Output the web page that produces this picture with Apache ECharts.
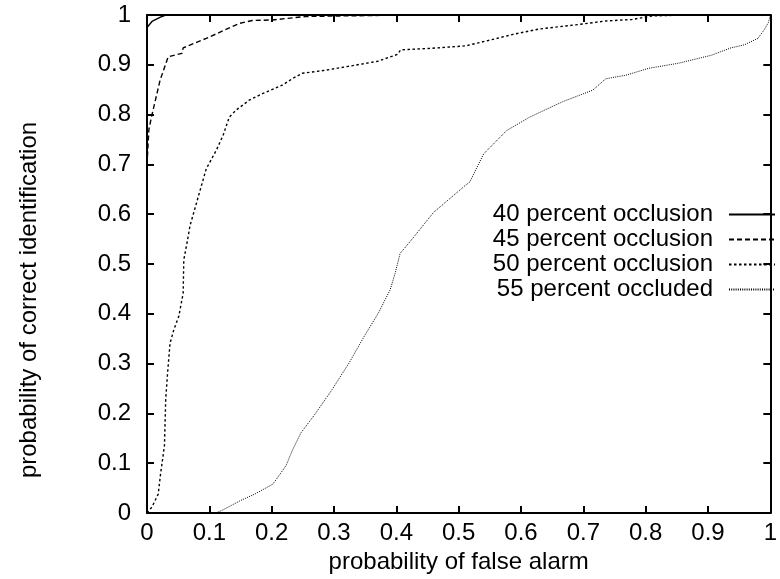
<!DOCTYPE html>
<html><head><meta charset="utf-8">
<script src="https://cdn.jsdelivr.net/npm/echarts@6/dist/echarts.min.js"></script>
<style>html,body{margin:0;padding:0;background:#fff}#c{width:780px;height:579px}</style>
</head><body><div id="c"></div>
<script>
// ---- data ----
const seriesNames = ['40 percent occlusion', '45 percent occlusion', '50 percent occlusion', '55 percent occluded'];
const xAxisTitle = 'probability of false alarm';
const yAxisTitle = 'probability of correct identification';
const tickValues = [0, 0.1, 0.2, 0.3, 0.4, 0.5, 0.6, 0.7, 0.8, 0.9, 1];

const occ40X = [0, 0.008, 0.024, 0.03, 1];
const occ40Y = [0.975, 0.987, 0.997, 1, 1];

const occ45X = [0, 0.003, 0.008, 0.021, 0.034, 0.056, 0.058, 0.095, 0.148, 0.169, 0.201, 0.254, 0.307, 0.36, 0.42, 1];
const occ45Y = [0.70, 0.77, 0.80, 0.869, 0.916, 0.923, 0.934, 0.953, 0.983, 0.989, 0.99, 0.997, 0.998, 0.999, 1, 1];

const occ50X = [0, 0.008, 0.018, 0.022, 0.028, 0.030, 0.033, 0.037, 0.043, 0.051, 0.058, 0.059, 0.065, 0.069, 0.082, 0.095, 0.111, 0.122, 0.132, 0.143, 0.164, 0.185, 0.217, 0.233, 0.249, 0.286, 0.333, 0.370, 0.402, 0.407, 0.455, 0.511, 0.545, 0.587, 0.630, 0.693, 0.736, 0.778, 0.81, 0.86, 1];
const occ50Y = [0, 0.012, 0.038, 0.081, 0.135, 0.228, 0.281, 0.341, 0.368, 0.395, 0.441, 0.508, 0.548, 0.577, 0.634, 0.691, 0.728, 0.758, 0.795, 0.809, 0.829, 0.842, 0.859, 0.872, 0.883, 0.889, 0.899, 0.907, 0.921, 0.93, 0.933, 0.938, 0.948, 0.961, 0.972, 0.981, 0.988, 0.991, 0.998, 1, 1];

const occ55X = [0.11, 0.12, 0.15, 0.173, 0.202, 0.223, 0.234, 0.247, 0.271, 0.297, 0.324, 0.350, 0.371, 0.390, 0.398, 0.406, 0.424, 0.460, 0.511, 0.518, 0.540, 0.577, 0.614, 0.667, 0.715, 0.736, 0.768, 0.805, 0.852, 0.905, 0.937, 0.958, 0.980, 0.990, 0.997, 1];
const occ55Y = [0, 0.005, 0.025, 0.038, 0.058, 0.095, 0.128, 0.161, 0.201, 0.248, 0.301, 0.358, 0.401, 0.448, 0.481, 0.521, 0.548, 0.604, 0.658, 0.665, 0.721, 0.768, 0.795, 0.826, 0.849, 0.872, 0.879, 0.893, 0.903, 0.919, 0.934, 0.94, 0.953, 0.97, 0.985, 1];

// ---- build ----
const zip = (xs, ys) => xs.map((x, i) => [x, ys[i]]);
const FONT = 'Liberation Sans';
const fmt = v => String(Math.round(v * 10) / 10);

const styles = [
  { width: 1.4, type: 'solid' },
  { width: 1.4, type: [5, 3] },
  { width: 1.4, type: [2.5, 2.5] },
  { width: 1, type: [1, 1.2] }
];
const datas = [zip(occ40X, occ40Y), zip(occ45X, occ45Y), zip(occ50X, occ50Y), zip(occ55X, occ55Y)];

const axisCommon = {
  type: 'value', min: 0, max: 1, interval: 0.1,
  axisLine: { show: true, onZero: false, lineStyle: { color: '#000', width: 2 } },
  axisTick: { show: true, inside: true, length: 7, lineStyle: { color: '#000', width: 2 } },
  splitLine: { show: false }
};

const chart = echarts.init(document.getElementById('c'), null, { renderer: 'canvas' });
chart.setOption({
  animation: false,
  backgroundColor: '#fff',
  grid: { left: 147, right: 3, top: 15, bottom: 66, containLabel: false },
  xAxis: [
    Object.assign({}, axisCommon, {
      position: 'bottom',
      axisLabel: { color: '#000', fontSize: 24, fontFamily: FONT, margin: 8, formatter: fmt },
      name: xAxisTitle, nameLocation: 'middle', nameGap: 34,
      nameTextStyle: { color: '#000', fontSize: 24, fontFamily: FONT }
    }),
    Object.assign({}, axisCommon, { position: 'top', axisLabel: { show: false } })
  ],
  yAxis: [
    Object.assign({}, axisCommon, {
      position: 'left',
      axisLabel: { color: '#000', fontSize: 24, fontFamily: FONT, margin: 16, formatter: fmt }
    }),
    Object.assign({}, axisCommon, { position: 'right', axisLabel: { show: false } })
  ],
  legend: {
    orient: 'vertical', right: 4, top: 202, align: 'right',
    itemWidth: 46, itemHeight: 14, itemGap: 0, padding: 0,
    itemStyle: { opacity: 0, color: 'rgba(0,0,0,0)', borderColor: 'rgba(0,0,0,0)', borderWidth: 0 },
    textStyle: { color: '#000', fontSize: 24, fontFamily: FONT, lineHeight: 25, padding: [0, 11, 0, 0] },
    data: seriesNames
  },
  graphic: [{
    type: 'text', x: 29, y: 300, rotation: Math.PI / 2,
    style: { text: yAxisTitle, font: '24px "Liberation Sans"', fill: '#000', align: 'center', verticalAlign: 'middle' }
  }],
  series: seriesNames.map((n, i) => ({
    name: n, type: 'line', data: datas[i],
    showSymbol: false, symbol: 'none', smooth: false,
    lineStyle: { color: '#000', width: styles[i].width, type: styles[i].type },
    itemStyle: { color: '#000' },
    z: 3
  }))
});
</script>
</body></html>
